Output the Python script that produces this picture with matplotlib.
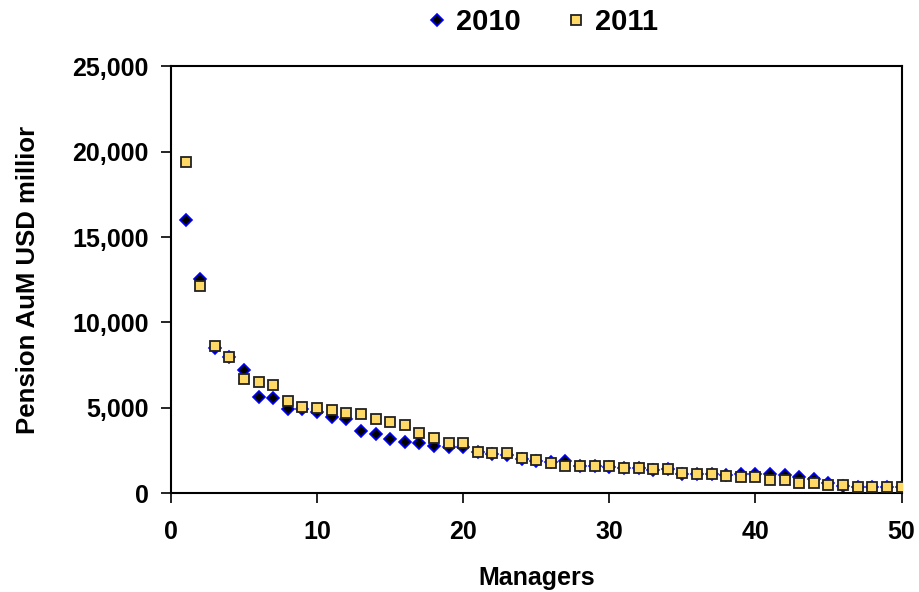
import matplotlib.pyplot as plt
from matplotlib.ticker import FuncFormatter

plt.rcParams['font.family'] = ['Liberation Sans', 'DejaVu Sans']
plt.rcParams['font.weight'] = 'bold'

# Ranked managers
managers = list(range(1, 51))

# Pension AuM (USD million)
aum_2010 = [16020, 12540, 8490, 7960, 7220, 5650, 5590, 4910, 4910, 4770,
            4480, 4320, 3660, 3460, 3170, 3010, 2910, 2780, 2720, 2700,
            2420, 2300, 2250, 2000, 1900, 1850, 1880, 1600, 1600, 1550,
            1500, 1450, 1350, 1400, 1150, 1100, 1100, 1040, 1100, 1120,
            1120, 1060, 950, 800, 570, 430, 370, 370, 340, 370]
aum_2011 = [19370, 12110, 8630, 8000, 6710, 6510, 6340, 5420, 5070, 4970,
            4870, 4710, 4620, 4320, 4150, 3970, 3500, 3250, 2950, 2950,
            2420, 2330, 2330, 2030, 1940, 1780, 1580, 1580, 1580, 1580,
            1490, 1490, 1390, 1390, 1190, 1110, 1110, 1020, 960, 960,
            760, 760, 570, 570, 470, 470, 370, 370, 370, 370]

fig = plt.figure(figsize=(9.19, 5.92), dpi=100)
ax = fig.add_axes([0.186, 0.167, 0.795, 0.721])

ax.plot(managers, aum_2010, linestyle='none', marker='D', markersize=5.8,
        markerfacecolor='black', markeredgecolor='#0000ff', markeredgewidth=1.2,
        label='2010', zorder=2)
ax.plot(managers, aum_2011, linestyle='none', marker='s', markersize=6.5,
        markerfacecolor='#ffd966', markeredgecolor='#222222', markeredgewidth=1.3,
        label='2011', zorder=3)

ax.set_xlim(0, 50)
ax.set_ylim(0, 25000)
ax.set_xticks(range(0, 51, 10))
ax.set_yticks(range(0, 25001, 5000))
ax.yaxis.set_major_formatter(FuncFormatter(lambda v, p: f"{int(v):,}"))
ax.tick_params(direction='out', length=7, width=1.2, labelsize=18)
ax.tick_params(axis='x', pad=12)
ax.tick_params(axis='y', pad=9)
for s in ax.spines.values():
    s.set_linewidth(1.5)

ax.set_xlabel("Managers", fontsize=18, fontweight='bold', labelpad=16)
ax.set_ylabel("Pension AuM USD millior", fontsize=18.5, fontweight='bold', labelpad=23)

fig.legend(loc='center', bbox_to_anchor=(0.588, 0.962), ncol=2, frameon=False,
           fontsize=21, handletextpad=0.15, columnspacing=1.4, markerscale=1.0,
           handlelength=1.0, borderpad=0.2)

fig.savefig("out.png", dpi=100)
